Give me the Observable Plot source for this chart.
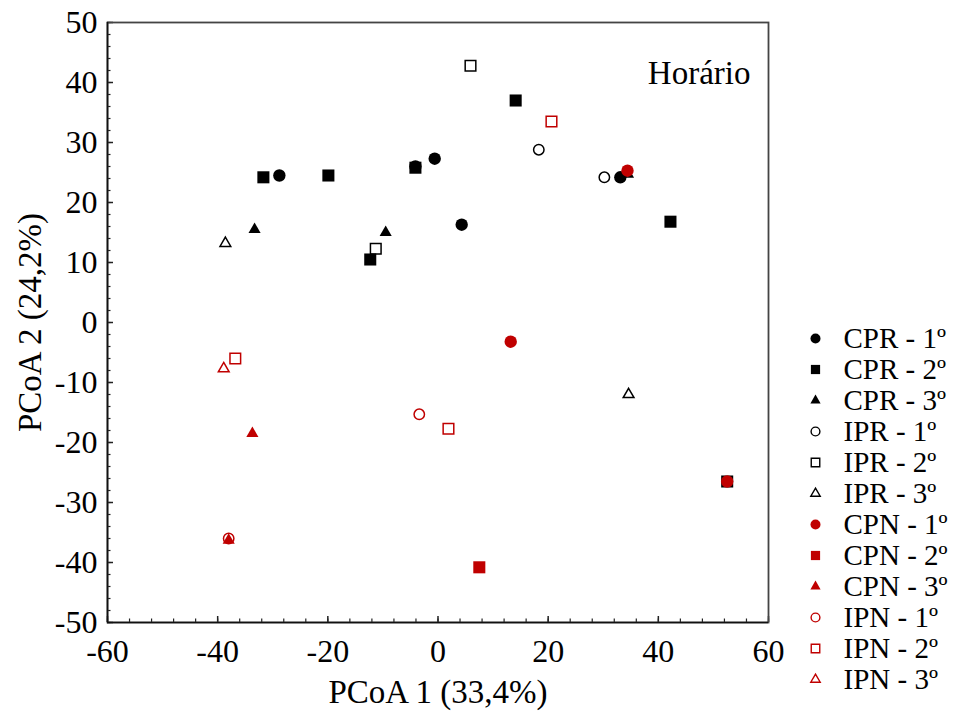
<!DOCTYPE html>
<html>
<head>
<meta charset="utf-8">
<script src="https://cdn.jsdelivr.net/npm/d3@7"></script>
<script src="https://cdn.jsdelivr.net/npm/@observablehq/plot@0.6"></script>
<style>
  html, body { margin: 0; padding: 0; background: white; }
  #wrap { position: relative; width: 954px; height: 716px; }
  #legend { position: absolute; left: 795px; top: 289px; }
  svg, svg text, svg g { font-family: "Liberation Serif", "Times New Roman", serif !important; font-variant: normal !important; }
</style>
</head>
<body>
<div id="wrap"><div id="chart"></div><div id="legend"></div></div>
<script>
// ---- data ----
const seriesNames = ["CPR - 1º","CPR - 2º","CPR - 3º","IPR - 1º","IPR - 2º","IPR - 3º",
                     "CPN - 1º","CPN - 2º","CPN - 3º","IPN - 1º","IPN - 2º","IPN - 3º"];
const seriesColor = ["#000000","#000000","#000000","#000000","#000000","#000000",
                     "#c00000","#c00000","#c00000","#c00000","#c00000","#c00000"];
const seriesShape = ["circle","square","triangle","circle","square","triangle",
                     "circle","square","triangle","circle","square","triangle"];
const seriesFilled = [true,true,true,false,false,false,true,true,true,false,false,false];

const CPR1 = [[-28.8,24.5],[-4.1,26.0],[-0.6,27.3],[4.3,16.3],[33.1,24.2]];
const CPR2 = [[-31.7,24.2],[-19.9,24.5],[-4.1,25.8],[-12.3,10.5],[14.1,37.0],[42.2,16.8],[52.5,-26.5]];
const CPR3 = [[-33.3,15.5],[-9.5,15.0],[34.5,24.7]];
const IPR1 = [[18.3,28.8],[30.2,24.2]];
const IPR2 = [[5.9,42.8],[-11.3,12.3]];
const IPR3 = [[-38.6,13.2],[34.6,-12.0]];
const CPN1 = [[34.4,25.3],[13.2,-3.2],[52.5,-26.5]];
const CPN2 = [[7.5,-40.8]];
const CPN3 = [[-33.7,-18.5],[-38.0,-36.3]];
const IPN1 = [[-3.4,-15.3],[-38.0,-36.0]];
const IPN2 = [[20.6,33.5],[-36.8,-6.0],[1.9,-17.7]];
const IPN3 = [[-38.9,-7.7]];
const seriesPoints = [CPR1,CPR2,CPR3,IPR1,IPR2,IPR3,CPN1,CPN2,CPN3,IPN1,IPN2,IPN3];

const xTicks = [-60,-40,-20,0,20,40,60];
const yTicks = [-50,-40,-30,-20,-10,0,10,20,30,40,50];
const xMinorTicks = d3.range(-60, 61, 4);
const yMinorTicks = d3.range(-50, 51, 2);
const xTitle = "PCoA 1 (33,4%)";
const yTitle = "PCoA 2 (24,2%)";
const panelTitle = "Horário";

// ---- styles ----
const font = "Liberation Serif";
const filledR = {circle: 6.2, square: 6.8, triangle: 4.5};
const openR = {circle: 5.2, square: 6.0, triangle: 4.0};
const legFilledR = {circle: 5.0, square: 5.2, triangle: 3.8};
const legOpenR = {circle: 4.4, square: 4.8, triangle: 3.5};

const W = 954, H = 716, mL = 107, mR = 186, mT = 22, mB = 94;
const innerW = W - mL - mR, innerH = H - mT - mB;

const pointMarks = seriesNames.map((name, i) => {
  const rows = seriesPoints[i].map(([x, y]) => ({x, y}));
  const filled = seriesFilled[i];
  return Plot.dot(rows, {
    x: "x", y: "y",
    symbol: seriesShape[i],
    r: (filled ? filledR : openR)[seriesShape[i]],
    fill: filled ? seriesColor[i] : "none",
    stroke: seriesColor[i],
    strokeWidth: filled ? 0 : 1.5
  });
});

const chart = Plot.plot({
  width: W, height: H,
  marginLeft: mL, marginRight: mR, marginTop: mT, marginBottom: mB,
  x: {domain: [-60, 60]},
  y: {domain: [-50, 50]},
  style: {fontFamily: font, fontSize: "32px", background: "white", color: "black"},
  marks: [
    Plot.tickX(xMinorTicks, {x: d => d, insetTop: innerH - 3.5, stroke: "#222", strokeWidth: 1.2}),
    Plot.tickX(xTicks, {x: d => d, insetTop: innerH - 6, stroke: "#222", strokeWidth: 1.5}),
    Plot.tickY(yMinorTicks, {y: d => d, insetRight: innerW - 3.5, stroke: "#222", strokeWidth: 1.2}),
    Plot.tickY(yTicks, {y: d => d, insetRight: innerW - 6, stroke: "#222", strokeWidth: 1.5}),
    Plot.axisX({ticks: xTicks, tickSize: 0, tickPadding: 17, label: null, tickFormat: d => `${d}`,
                fill: "black", fontFamily: font, fontSize: 32}),
    Plot.axisY({ticks: yTicks, tickSize: 0, tickPadding: 10, label: null, tickFormat: d => `${d}`,
                fill: "black", fontFamily: font, fontSize: 32}),
    Plot.frame({stroke: "#444", strokeWidth: 1.8}),
    Plot.ruleX([-60], {stroke: "#111", strokeWidth: 1.6}),
    Plot.ruleY([-50], {stroke: "#111", strokeWidth: 1.6}),
    ...pointMarks,
    Plot.text([panelTitle], {frameAnchor: "top-right", dx: -18, dy: 38, fontSize: 33, textAnchor: "end",
                             fill: "black", fontFamily: font}),
    Plot.text([xTitle], {frameAnchor: "bottom", dy: 80, fontSize: 33, textAnchor: "middle",
                         fill: "black", fontFamily: font}),
    Plot.text([yTitle], {frameAnchor: "left", dx: -77, rotate: -90, fontSize: 33, textAnchor: "middle",
                         fill: "black", fontFamily: font})
  ]
});
d3.select(chart).selectAll("text").attr("font-family", "Liberation Serif").style("font-family", "Liberation Serif");
document.getElementById("chart").appendChild(chart);

// ---- legend ----
const legendMarks = seriesNames.map((name, i) => {
  const filled = seriesFilled[i];
  return Plot.dot([name], {
    y: d => d, frameAnchor: "left", dx: 20,
    symbol: seriesShape[i],
    r: (filled ? legFilledR : legOpenR)[seriesShape[i]],
    fill: filled ? seriesColor[i] : "none",
    stroke: seriesColor[i],
    strokeWidth: filled ? 0 : 1.4
  });
});
const legend = Plot.plot({
  width: 159, height: 426,
  margin: 0,
  y: {type: "point", domain: seriesNames, range: [28, 410], axis: null},
  style: {fontFamily: font, fontSize: "29px", background: "transparent", color: "black"},
  marks: [
    ...legendMarks,
    Plot.text(seriesNames, {y: d => d, frameAnchor: "left", dx: 48, textAnchor: "start",
                            fill: "black", fontSize: 29, fontFamily: font})
  ]
});
d3.select(legend).selectAll("text").attr("font-family", "Liberation Serif").style("font-family", "Liberation Serif");
document.getElementById("legend").appendChild(legend);
</script>
</body>
</html>
